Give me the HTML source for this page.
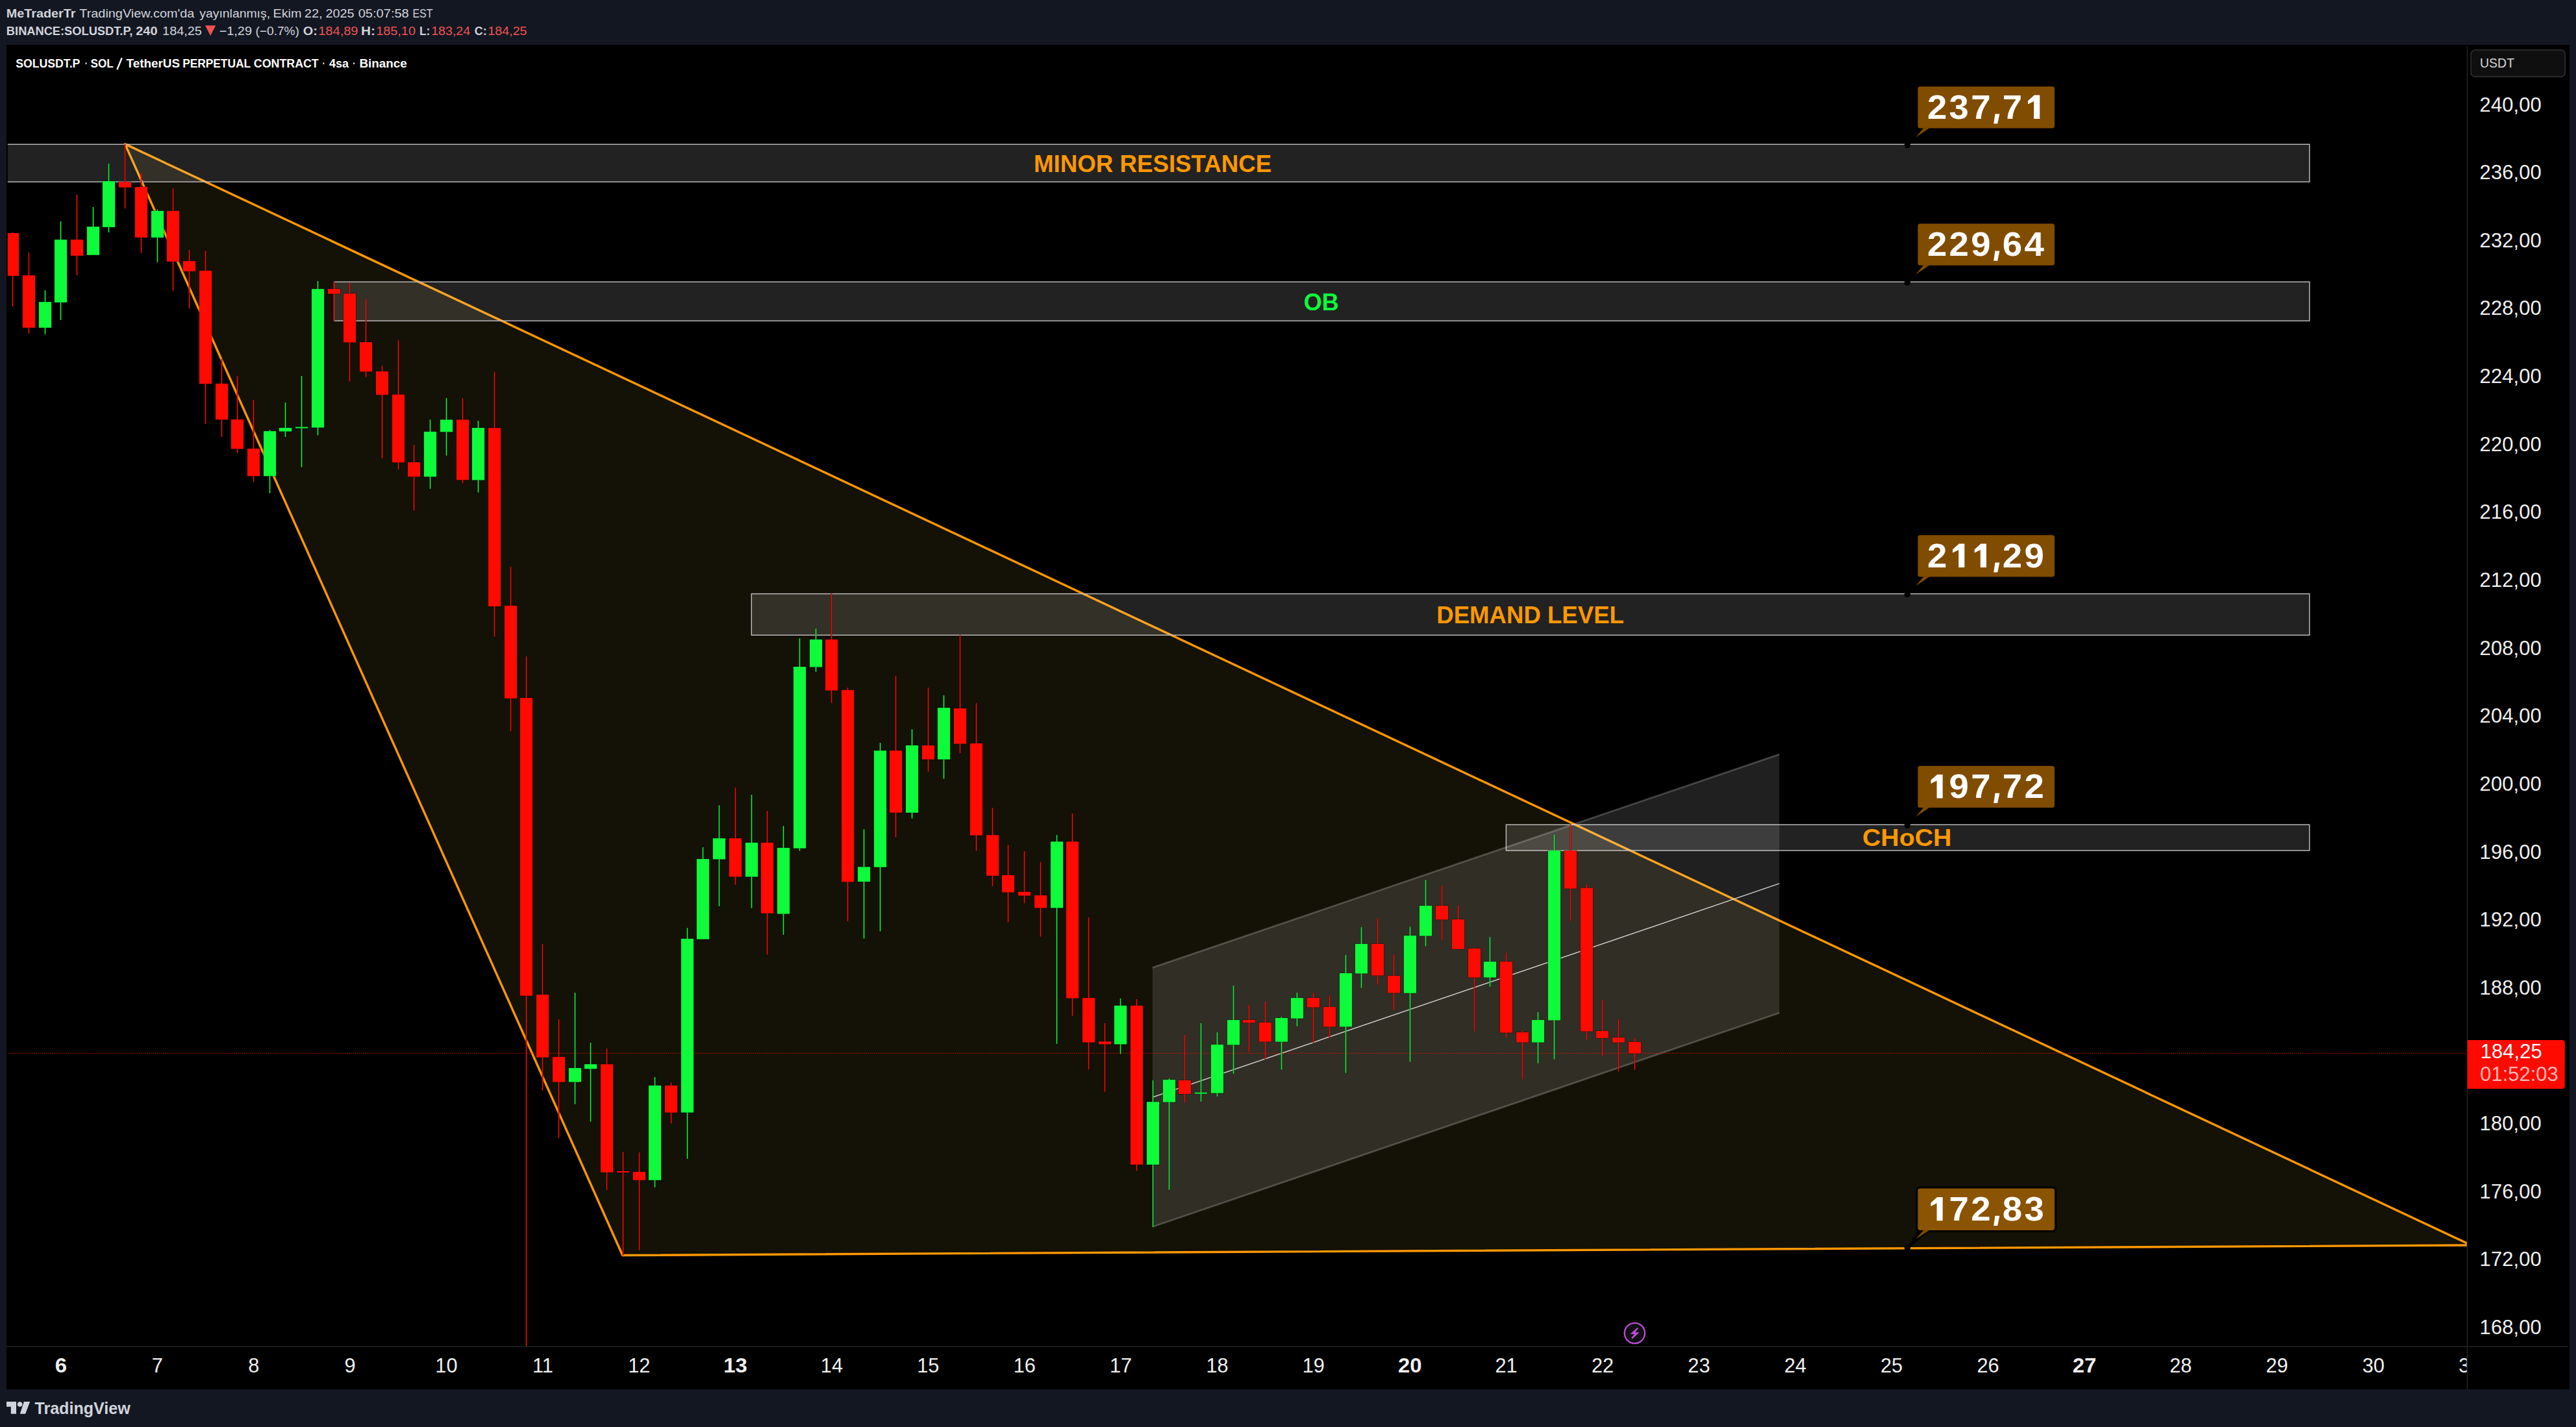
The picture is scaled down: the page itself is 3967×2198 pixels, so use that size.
<!DOCTYPE html>
<html><head><meta charset="utf-8"><title>SOLUSDT.P</title>
<style>html,body{margin:0;padding:0;background:#131722;overflow:hidden}svg{display:block}text{font-family:"Liberation Sans",sans-serif}</style></head><body>
<svg width="3967" height="2198" viewBox="0 0 3967 2198">
<rect x="0" y="0" width="3967" height="2198" fill="#131722"/>
<rect x="10" y="69" width="3947" height="2071" fill="#000"/>
<defs><clipPath id="pane"><rect x="11.8" y="69" width="3787.7" height="2005.3000000000002"/></clipPath></defs>
<g clip-path="url(#pane)">
<polygon points="192.5,221.9 3805.7,1918.0 958.7,1933.5" fill="rgba(255,213,79,0.08)" stroke="#ff9800" stroke-width="3.4" stroke-linejoin="round"/>
<rect x="-7" y="222.3" width="3563.6" height="57.8" fill="rgba(255,255,255,0.132)" stroke="#c2c2c2" stroke-width="1.4"/>
<rect x="514.5" y="434.2" width="3042.1" height="60.0" fill="rgba(255,255,255,0.132)" stroke="#c2c2c2" stroke-width="1.4"/>
<rect x="1157.3" y="914.6" width="2399.3" height="63.7" fill="rgba(255,255,255,0.132)" stroke="#c2c2c2" stroke-width="1.4"/>
<rect x="2319.4" y="1270.3" width="1237.1999999999998" height="39.8" fill="rgba(255,255,255,0.132)" stroke="#c2c2c2" stroke-width="1.4"/>
<polygon points="1774.8,1490.4 2740.2,1161.8 2740.2,1560.2 1774.8,1889.7" fill="rgba(255,255,255,0.125)"/>
<line x1="1774.8" y1="1490.4" x2="2740.2" y2="1161.8" stroke="rgba(255,255,255,0.21)" stroke-width="2.8"/>
<line x1="1774.8" y1="1889.7" x2="2740.2" y2="1560.2" stroke="rgba(255,255,255,0.21)" stroke-width="2.8"/>
<line x1="1774.8" y1="1690.0" x2="2740.2" y2="1360.9" stroke="#d4d4d4" stroke-width="1.4"/>
<line x1="10" y1="1622.3" x2="3799.5" y2="1622.3" stroke="#ff0a00" stroke-width="1.3" stroke-dasharray="1.35 1.7" opacity="0.8"/>
<path d="M18.85 358.0h1.3V471.9h-1.3z" fill="#ff0a00" stroke="rgba(0,0,0,0.45)" stroke-width="1.0" paint-order="stroke"/>
<rect x="9.9" y="359.0" width="19.2" height="65.9" fill="#ff0a00" stroke="rgba(0,0,0,0.45)" stroke-width="1.4" paint-order="stroke"/>
<path d="M18.85 358.0h1.3V359.0h-1.3zM18.85 424.9h1.3V471.9h-1.3z" fill="#ff0a00"/>
<path d="M43.85 389.2h1.3V513.8h-1.3z" fill="#ff0a00" stroke="rgba(0,0,0,0.45)" stroke-width="1.0" paint-order="stroke"/>
<rect x="34.9" y="424.1" width="19.2" height="80.7" fill="#ff0a00" stroke="rgba(0,0,0,0.45)" stroke-width="1.4" paint-order="stroke"/>
<path d="M43.85 389.2h1.3V424.1h-1.3zM43.85 504.8h1.3V513.8h-1.3z" fill="#ff0a00"/>
<path d="M68.85 447.1h1.3V514.9h-1.3z" fill="#0dfb3a" stroke="rgba(0,0,0,0.45)" stroke-width="1.0" paint-order="stroke"/>
<rect x="59.9" y="465.1" width="19.2" height="39.7" fill="#0dfb3a" stroke="rgba(0,0,0,0.45)" stroke-width="1.4" paint-order="stroke"/>
<path d="M68.85 447.1h1.3V465.1h-1.3zM68.85 504.8h1.3V514.9h-1.3z" fill="#0dfb3a"/>
<path d="M92.85 340.9h1.3V492.9h-1.3z" fill="#0dfb3a" stroke="rgba(0,0,0,0.45)" stroke-width="1.0" paint-order="stroke"/>
<rect x="83.9" y="369.1" width="19.2" height="96.7" fill="#0dfb3a" stroke="rgba(0,0,0,0.45)" stroke-width="1.4" paint-order="stroke"/>
<path d="M92.85 340.9h1.3V369.1h-1.3zM92.85 465.8h1.3V492.9h-1.3z" fill="#0dfb3a"/>
<path d="M117.85 300.0h1.3V423.9h-1.3z" fill="#ff0a00" stroke="rgba(0,0,0,0.45)" stroke-width="1.0" paint-order="stroke"/>
<rect x="108.9" y="369.1" width="19.2" height="24.8" fill="#ff0a00" stroke="rgba(0,0,0,0.45)" stroke-width="1.4" paint-order="stroke"/>
<path d="M117.85 300.0h1.3V369.1h-1.3zM117.85 393.9h1.3V423.9h-1.3z" fill="#ff0a00"/>
<path d="M142.85 319.0h1.3V392.8h-1.3z" fill="#0dfb3a" stroke="rgba(0,0,0,0.45)" stroke-width="1.0" paint-order="stroke"/>
<rect x="133.9" y="349.1" width="19.2" height="43.7" fill="#0dfb3a" stroke="rgba(0,0,0,0.45)" stroke-width="1.4" paint-order="stroke"/>
<path d="M142.85 319.0h1.3V349.1h-1.3zM142.85 392.8h1.3V392.8h-1.3z" fill="#0dfb3a"/>
<path d="M166.85 252.1h1.3V357.9h-1.3z" fill="#0dfb3a" stroke="rgba(0,0,0,0.45)" stroke-width="1.0" paint-order="stroke"/>
<rect x="157.9" y="279.0" width="19.2" height="70.9" fill="#0dfb3a" stroke="rgba(0,0,0,0.45)" stroke-width="1.4" paint-order="stroke"/>
<path d="M166.85 252.1h1.3V279.0h-1.3zM166.85 349.9h1.3V357.9h-1.3z" fill="#0dfb3a"/>
<path d="M191.85 221.9h1.3V321.1h-1.3z" fill="#ff0a00" stroke="rgba(0,0,0,0.45)" stroke-width="1.0" paint-order="stroke"/>
<rect x="182.9" y="280.3" width="19.2" height="8.4" fill="#ff0a00" stroke="rgba(0,0,0,0.45)" stroke-width="1.4" paint-order="stroke"/>
<path d="M191.85 221.9h1.3V280.3h-1.3zM191.85 288.7h1.3V321.1h-1.3z" fill="#ff0a00"/>
<path d="M216.85 267.3h1.3V390.0h-1.3z" fill="#ff0a00" stroke="rgba(0,0,0,0.45)" stroke-width="1.0" paint-order="stroke"/>
<rect x="207.9" y="287.9" width="19.2" height="78.0" fill="#ff0a00" stroke="rgba(0,0,0,0.45)" stroke-width="1.4" paint-order="stroke"/>
<path d="M216.85 267.3h1.3V287.9h-1.3zM216.85 365.9h1.3V390.0h-1.3z" fill="#ff0a00"/>
<path d="M241.85 322.7h1.3V403.9h-1.3z" fill="#0dfb3a" stroke="rgba(0,0,0,0.45)" stroke-width="1.0" paint-order="stroke"/>
<rect x="232.9" y="324.8" width="19.2" height="41.1" fill="#0dfb3a" stroke="rgba(0,0,0,0.45)" stroke-width="1.4" paint-order="stroke"/>
<path d="M241.85 322.7h1.3V324.8h-1.3zM241.85 365.9h1.3V403.9h-1.3z" fill="#0dfb3a"/>
<path d="M265.85 290.0h1.3V447.9h-1.3z" fill="#ff0a00" stroke="rgba(0,0,0,0.45)" stroke-width="1.0" paint-order="stroke"/>
<rect x="256.9" y="324.8" width="19.2" height="78.1" fill="#ff0a00" stroke="rgba(0,0,0,0.45)" stroke-width="1.4" paint-order="stroke"/>
<path d="M265.85 290.0h1.3V324.8h-1.3zM265.85 402.9h1.3V447.9h-1.3z" fill="#ff0a00"/>
<path d="M290.85 385.1h1.3V475.0h-1.3z" fill="#ff0a00" stroke="rgba(0,0,0,0.45)" stroke-width="1.0" paint-order="stroke"/>
<rect x="281.9" y="402.1" width="19.2" height="15.8" fill="#ff0a00" stroke="rgba(0,0,0,0.45)" stroke-width="1.4" paint-order="stroke"/>
<path d="M290.85 385.1h1.3V402.1h-1.3zM290.85 417.9h1.3V475.0h-1.3z" fill="#ff0a00"/>
<path d="M315.85 386.2h1.3V652.7h-1.3z" fill="#ff0a00" stroke="rgba(0,0,0,0.45)" stroke-width="1.0" paint-order="stroke"/>
<rect x="306.9" y="416.9" width="19.2" height="174.4" fill="#ff0a00" stroke="rgba(0,0,0,0.45)" stroke-width="1.4" paint-order="stroke"/>
<path d="M315.85 386.2h1.3V416.9h-1.3zM315.85 591.3h1.3V652.7h-1.3z" fill="#ff0a00"/>
<path d="M340.85 553.1h1.3V672.9h-1.3z" fill="#ff0a00" stroke="rgba(0,0,0,0.45)" stroke-width="1.0" paint-order="stroke"/>
<rect x="331.9" y="590.9" width="19.2" height="55.5" fill="#ff0a00" stroke="rgba(0,0,0,0.45)" stroke-width="1.4" paint-order="stroke"/>
<path d="M340.85 553.1h1.3V590.9h-1.3zM340.85 646.4h1.3V672.9h-1.3z" fill="#ff0a00"/>
<path d="M364.85 579.2h1.3V697.3h-1.3z" fill="#ff0a00" stroke="rgba(0,0,0,0.45)" stroke-width="1.0" paint-order="stroke"/>
<rect x="355.9" y="646.0" width="19.2" height="45.4" fill="#ff0a00" stroke="rgba(0,0,0,0.45)" stroke-width="1.4" paint-order="stroke"/>
<path d="M364.85 579.2h1.3V646.0h-1.3zM364.85 691.4h1.3V697.3h-1.3z" fill="#ff0a00"/>
<path d="M389.85 616.1h1.3V742.2h-1.3z" fill="#ff0a00" stroke="rgba(0,0,0,0.45)" stroke-width="1.0" paint-order="stroke"/>
<rect x="380.9" y="691.0" width="19.2" height="42.4" fill="#ff0a00" stroke="rgba(0,0,0,0.45)" stroke-width="1.4" paint-order="stroke"/>
<path d="M389.85 616.1h1.3V691.0h-1.3zM389.85 733.4h1.3V742.2h-1.3z" fill="#ff0a00"/>
<path d="M414.85 662.4h1.3V759.5h-1.3z" fill="#0dfb3a" stroke="rgba(0,0,0,0.45)" stroke-width="1.0" paint-order="stroke"/>
<rect x="405.9" y="664.1" width="19.2" height="69.3" fill="#0dfb3a" stroke="rgba(0,0,0,0.45)" stroke-width="1.4" paint-order="stroke"/>
<path d="M414.85 662.4h1.3V664.1h-1.3zM414.85 733.4h1.3V759.5h-1.3z" fill="#0dfb3a"/>
<path d="M438.85 619.9h1.3V672.9h-1.3z" fill="#0dfb3a" stroke="rgba(0,0,0,0.45)" stroke-width="1.0" paint-order="stroke"/>
<rect x="429.9" y="659.0" width="19.2" height="5.5" fill="#0dfb3a" stroke="rgba(0,0,0,0.45)" stroke-width="1.4" paint-order="stroke"/>
<path d="M438.85 619.9h1.3V659.0h-1.3zM438.85 664.5h1.3V672.9h-1.3z" fill="#0dfb3a"/>
<path d="M463.85 579.2h1.3V719.5h-1.3z" fill="#0dfb3a" stroke="rgba(0,0,0,0.45)" stroke-width="1.0" paint-order="stroke"/>
<rect x="454.9" y="657.6" width="19.2" height="2.0" fill="#0dfb3a" stroke="rgba(0,0,0,0.45)" stroke-width="1.4" paint-order="stroke"/>
<path d="M463.85 579.2h1.3V657.6h-1.3zM463.85 659.6h1.3V719.5h-1.3z" fill="#0dfb3a"/>
<path d="M488.85 432.9h1.3V670.4h-1.3z" fill="#0dfb3a" stroke="rgba(0,0,0,0.45)" stroke-width="1.0" paint-order="stroke"/>
<rect x="479.9" y="445.1" width="19.2" height="213.5" fill="#0dfb3a" stroke="rgba(0,0,0,0.45)" stroke-width="1.4" paint-order="stroke"/>
<path d="M488.85 432.9h1.3V445.1h-1.3zM488.85 658.6h1.3V670.4h-1.3z" fill="#0dfb3a"/>
<path d="M513.85 434.1h1.3V494.2h-1.3z" fill="#ff0a00" stroke="rgba(0,0,0,0.45)" stroke-width="1.0" paint-order="stroke"/>
<rect x="504.9" y="445.1" width="19.2" height="7.5" fill="#ff0a00" stroke="rgba(0,0,0,0.45)" stroke-width="1.4" paint-order="stroke"/>
<path d="M513.85 434.1h1.3V445.1h-1.3zM513.85 452.6h1.3V494.2h-1.3z" fill="#ff0a00"/>
<path d="M537.85 435.4h1.3V587.6h-1.3z" fill="#ff0a00" stroke="rgba(0,0,0,0.45)" stroke-width="1.0" paint-order="stroke"/>
<rect x="528.9" y="452.2" width="19.2" height="75.2" fill="#ff0a00" stroke="rgba(0,0,0,0.45)" stroke-width="1.4" paint-order="stroke"/>
<path d="M537.85 435.4h1.3V452.2h-1.3zM537.85 527.4h1.3V587.6h-1.3z" fill="#ff0a00"/>
<path d="M562.85 460.2h1.3V580.4h-1.3z" fill="#ff0a00" stroke="rgba(0,0,0,0.45)" stroke-width="1.0" paint-order="stroke"/>
<rect x="553.9" y="527.0" width="19.2" height="45.4" fill="#ff0a00" stroke="rgba(0,0,0,0.45)" stroke-width="1.4" paint-order="stroke"/>
<path d="M562.85 460.2h1.3V527.0h-1.3zM562.85 572.4h1.3V580.4h-1.3z" fill="#ff0a00"/>
<path d="M587.85 563.2h1.3V705.7h-1.3z" fill="#ff0a00" stroke="rgba(0,0,0,0.45)" stroke-width="1.0" paint-order="stroke"/>
<rect x="578.9" y="572.0" width="19.2" height="36.2" fill="#ff0a00" stroke="rgba(0,0,0,0.45)" stroke-width="1.4" paint-order="stroke"/>
<path d="M587.85 563.2h1.3V572.0h-1.3zM587.85 608.2h1.3V705.7h-1.3z" fill="#ff0a00"/>
<path d="M612.85 524.1h1.3V723.3h-1.3z" fill="#ff0a00" stroke="rgba(0,0,0,0.45)" stroke-width="1.0" paint-order="stroke"/>
<rect x="603.9" y="607.7" width="19.2" height="104.7" fill="#ff0a00" stroke="rgba(0,0,0,0.45)" stroke-width="1.4" paint-order="stroke"/>
<path d="M612.85 524.1h1.3V607.7h-1.3zM612.85 712.4h1.3V723.3h-1.3z" fill="#ff0a00"/>
<path d="M636.85 685.1h1.3V786.4h-1.3z" fill="#ff0a00" stroke="rgba(0,0,0,0.45)" stroke-width="1.0" paint-order="stroke"/>
<rect x="627.9" y="712.0" width="19.2" height="22.3" fill="#ff0a00" stroke="rgba(0,0,0,0.45)" stroke-width="1.4" paint-order="stroke"/>
<path d="M636.85 685.1h1.3V712.0h-1.3zM636.85 734.3h1.3V786.4h-1.3z" fill="#ff0a00"/>
<path d="M661.85 646.4h1.3V752.8h-1.3z" fill="#0dfb3a" stroke="rgba(0,0,0,0.45)" stroke-width="1.0" paint-order="stroke"/>
<rect x="652.9" y="664.9" width="19.2" height="69.4" fill="#0dfb3a" stroke="rgba(0,0,0,0.45)" stroke-width="1.4" paint-order="stroke"/>
<path d="M661.85 646.4h1.3V664.9h-1.3zM661.85 734.3h1.3V752.8h-1.3z" fill="#0dfb3a"/>
<path d="M686.85 613.2h1.3V701.5h-1.3z" fill="#0dfb3a" stroke="rgba(0,0,0,0.45)" stroke-width="1.0" paint-order="stroke"/>
<rect x="677.9" y="646.4" width="19.2" height="18.9" fill="#0dfb3a" stroke="rgba(0,0,0,0.45)" stroke-width="1.4" paint-order="stroke"/>
<path d="M686.85 613.2h1.3V646.4h-1.3zM686.85 665.3h1.3V701.5h-1.3z" fill="#0dfb3a"/>
<path d="M711.85 613.2h1.3V744.3h-1.3z" fill="#ff0a00" stroke="rgba(0,0,0,0.45)" stroke-width="1.0" paint-order="stroke"/>
<rect x="702.9" y="646.4" width="19.2" height="92.9" fill="#ff0a00" stroke="rgba(0,0,0,0.45)" stroke-width="1.4" paint-order="stroke"/>
<path d="M711.85 613.2h1.3V646.4h-1.3zM711.85 739.3h1.3V744.3h-1.3z" fill="#ff0a00"/>
<path d="M735.85 648.1h1.3V758.4h-1.3z" fill="#0dfb3a" stroke="rgba(0,0,0,0.45)" stroke-width="1.0" paint-order="stroke"/>
<rect x="726.9" y="659.0" width="19.2" height="80.5" fill="#0dfb3a" stroke="rgba(0,0,0,0.45)" stroke-width="1.4" paint-order="stroke"/>
<path d="M735.85 648.1h1.3V659.0h-1.3zM735.85 739.5h1.3V758.4h-1.3z" fill="#0dfb3a"/>
<path d="M760.85 573.3h1.3V980.4h-1.3z" fill="#ff0a00" stroke="rgba(0,0,0,0.45)" stroke-width="1.0" paint-order="stroke"/>
<rect x="751.9" y="659.2" width="19.2" height="274.8" fill="#ff0a00" stroke="rgba(0,0,0,0.45)" stroke-width="1.4" paint-order="stroke"/>
<path d="M760.85 573.3h1.3V659.2h-1.3zM760.85 934.0h1.3V980.4h-1.3z" fill="#ff0a00"/>
<path d="M785.85 873.2h1.3V1126.3h-1.3z" fill="#ff0a00" stroke="rgba(0,0,0,0.45)" stroke-width="1.0" paint-order="stroke"/>
<rect x="776.9" y="932.9" width="19.2" height="142.9" fill="#ff0a00" stroke="rgba(0,0,0,0.45)" stroke-width="1.4" paint-order="stroke"/>
<path d="M785.85 873.2h1.3V932.9h-1.3zM785.85 1075.8h1.3V1126.3h-1.3z" fill="#ff0a00"/>
<path d="M809.85 1011.0h1.3V2073.6h-1.3z" fill="#ff0a00" stroke="rgba(0,0,0,0.45)" stroke-width="1.0" paint-order="stroke"/>
<rect x="800.9" y="1075.0" width="19.2" height="458.7" fill="#ff0a00" stroke="rgba(0,0,0,0.45)" stroke-width="1.4" paint-order="stroke"/>
<path d="M809.85 1011.0h1.3V1075.0h-1.3zM809.85 1533.7h1.3V2073.6h-1.3z" fill="#ff0a00"/>
<path d="M834.85 1454.3h1.3V1679.6h-1.3z" fill="#ff0a00" stroke="rgba(0,0,0,0.45)" stroke-width="1.0" paint-order="stroke"/>
<rect x="825.9" y="1532.0" width="19.2" height="96.7" fill="#ff0a00" stroke="rgba(0,0,0,0.45)" stroke-width="1.4" paint-order="stroke"/>
<path d="M834.85 1454.3h1.3V1532.0h-1.3zM834.85 1628.7h1.3V1679.6h-1.3z" fill="#ff0a00"/>
<path d="M859.85 1570.3h1.3V1752.3h-1.3z" fill="#ff0a00" stroke="rgba(0,0,0,0.45)" stroke-width="1.0" paint-order="stroke"/>
<rect x="850.9" y="1627.9" width="19.2" height="38.7" fill="#ff0a00" stroke="rgba(0,0,0,0.45)" stroke-width="1.4" paint-order="stroke"/>
<path d="M859.85 1570.3h1.3V1627.9h-1.3zM859.85 1666.6h1.3V1752.3h-1.3z" fill="#ff0a00"/>
<path d="M884.85 1529.1h1.3V1700.6h-1.3z" fill="#0dfb3a" stroke="rgba(0,0,0,0.45)" stroke-width="1.0" paint-order="stroke"/>
<rect x="875.9" y="1645.1" width="19.2" height="21.5" fill="#0dfb3a" stroke="rgba(0,0,0,0.45)" stroke-width="1.4" paint-order="stroke"/>
<path d="M884.85 1529.1h1.3V1645.1h-1.3zM884.85 1666.6h1.3V1700.6h-1.3z" fill="#0dfb3a"/>
<path d="M908.85 1606.0h1.3V1727.5h-1.3z" fill="#0dfb3a" stroke="rgba(0,0,0,0.45)" stroke-width="1.0" paint-order="stroke"/>
<rect x="899.9" y="1639.2" width="19.2" height="7.2" fill="#0dfb3a" stroke="rgba(0,0,0,0.45)" stroke-width="1.4" paint-order="stroke"/>
<path d="M908.85 1606.0h1.3V1639.2h-1.3zM908.85 1646.4h1.3V1727.5h-1.3z" fill="#0dfb3a"/>
<path d="M933.85 1615.3h1.3V1832.8h-1.3z" fill="#ff0a00" stroke="rgba(0,0,0,0.45)" stroke-width="1.0" paint-order="stroke"/>
<rect x="924.9" y="1639.2" width="19.2" height="166.6" fill="#ff0a00" stroke="rgba(0,0,0,0.45)" stroke-width="1.4" paint-order="stroke"/>
<path d="M933.85 1615.3h1.3V1639.2h-1.3zM933.85 1805.8h1.3V1832.8h-1.3z" fill="#ff0a00"/>
<path d="M958.85 1774.0h1.3V1933.5h-1.3z" fill="#ff0a00" stroke="rgba(0,0,0,0.45)" stroke-width="1.0" paint-order="stroke"/>
<rect x="949.9" y="1804.0" width="19.2" height="2.0" fill="#ff0a00" stroke="rgba(0,0,0,0.45)" stroke-width="1.4" paint-order="stroke"/>
<path d="M958.85 1774.0h1.3V1804.0h-1.3zM958.85 1806.0h1.3V1933.5h-1.3z" fill="#ff0a00"/>
<path d="M983.85 1775.1h1.3V1925.8h-1.3z" fill="#ff0a00" stroke="rgba(0,0,0,0.45)" stroke-width="1.0" paint-order="stroke"/>
<rect x="974.9" y="1805.0" width="19.2" height="12.8" fill="#ff0a00" stroke="rgba(0,0,0,0.45)" stroke-width="1.4" paint-order="stroke"/>
<path d="M983.85 1775.1h1.3V1805.0h-1.3zM983.85 1817.8h1.3V1925.8h-1.3z" fill="#ff0a00"/>
<path d="M1007.85 1659.0h1.3V1828.9h-1.3z" fill="#0dfb3a" stroke="rgba(0,0,0,0.45)" stroke-width="1.0" paint-order="stroke"/>
<rect x="998.9" y="1672.0" width="19.2" height="145.8" fill="#0dfb3a" stroke="rgba(0,0,0,0.45)" stroke-width="1.4" paint-order="stroke"/>
<path d="M1007.85 1659.0h1.3V1672.0h-1.3zM1007.85 1817.8h1.3V1828.9h-1.3z" fill="#0dfb3a"/>
<path d="M1032.85 1667.4h1.3V1730.4h-1.3z" fill="#ff0a00" stroke="rgba(0,0,0,0.45)" stroke-width="1.0" paint-order="stroke"/>
<rect x="1023.9" y="1672.0" width="19.2" height="41.7" fill="#ff0a00" stroke="rgba(0,0,0,0.45)" stroke-width="1.4" paint-order="stroke"/>
<path d="M1032.85 1667.4h1.3V1672.0h-1.3zM1032.85 1713.7h1.3V1730.4h-1.3z" fill="#ff0a00"/>
<path d="M1057.85 1429.5h1.3V1784.8h-1.3z" fill="#0dfb3a" stroke="rgba(0,0,0,0.45)" stroke-width="1.0" paint-order="stroke"/>
<rect x="1048.9" y="1445.9" width="19.2" height="267.7" fill="#0dfb3a" stroke="rgba(0,0,0,0.45)" stroke-width="1.4" paint-order="stroke"/>
<path d="M1057.85 1429.5h1.3V1445.9h-1.3zM1057.85 1713.6h1.3V1784.8h-1.3z" fill="#0dfb3a"/>
<path d="M1081.85 1305.1h1.3V1446.7h-1.3z" fill="#0dfb3a" stroke="rgba(0,0,0,0.45)" stroke-width="1.0" paint-order="stroke"/>
<rect x="1072.9" y="1323.1" width="19.2" height="123.6" fill="#0dfb3a" stroke="rgba(0,0,0,0.45)" stroke-width="1.4" paint-order="stroke"/>
<path d="M1081.85 1305.1h1.3V1323.1h-1.3zM1081.85 1446.7h1.3V1446.7h-1.3z" fill="#0dfb3a"/>
<path d="M1106.85 1240.6h1.3V1395.9h-1.3z" fill="#0dfb3a" stroke="rgba(0,0,0,0.45)" stroke-width="1.0" paint-order="stroke"/>
<rect x="1097.9" y="1291.2" width="19.2" height="32.4" fill="#0dfb3a" stroke="rgba(0,0,0,0.45)" stroke-width="1.4" paint-order="stroke"/>
<path d="M1106.85 1240.6h1.3V1291.2h-1.3zM1106.85 1323.6h1.3V1395.9h-1.3z" fill="#0dfb3a"/>
<path d="M1131.85 1213.3h1.3V1362.7h-1.3z" fill="#ff0a00" stroke="rgba(0,0,0,0.45)" stroke-width="1.0" paint-order="stroke"/>
<rect x="1122.9" y="1291.2" width="19.2" height="59.3" fill="#ff0a00" stroke="rgba(0,0,0,0.45)" stroke-width="1.4" paint-order="stroke"/>
<path d="M1131.85 1213.3h1.3V1291.2h-1.3zM1131.85 1350.5h1.3V1362.7h-1.3z" fill="#ff0a00"/>
<path d="M1156.85 1224.2h1.3V1398.8h-1.3z" fill="#0dfb3a" stroke="rgba(0,0,0,0.45)" stroke-width="1.0" paint-order="stroke"/>
<rect x="1147.9" y="1297.9" width="19.2" height="52.6" fill="#0dfb3a" stroke="rgba(0,0,0,0.45)" stroke-width="1.4" paint-order="stroke"/>
<path d="M1156.85 1224.2h1.3V1297.9h-1.3zM1156.85 1350.5h1.3V1398.8h-1.3z" fill="#0dfb3a"/>
<path d="M1180.85 1249.0h1.3V1470.3h-1.3z" fill="#ff0a00" stroke="rgba(0,0,0,0.45)" stroke-width="1.0" paint-order="stroke"/>
<rect x="1171.9" y="1297.9" width="19.2" height="108.9" fill="#ff0a00" stroke="rgba(0,0,0,0.45)" stroke-width="1.4" paint-order="stroke"/>
<path d="M1180.85 1249.0h1.3V1297.9h-1.3zM1180.85 1406.8h1.3V1470.3h-1.3z" fill="#ff0a00"/>
<path d="M1205.85 1272.3h1.3V1439.6h-1.3z" fill="#0dfb3a" stroke="rgba(0,0,0,0.45)" stroke-width="1.0" paint-order="stroke"/>
<rect x="1196.9" y="1305.9" width="19.2" height="101.7" fill="#0dfb3a" stroke="rgba(0,0,0,0.45)" stroke-width="1.4" paint-order="stroke"/>
<path d="M1205.85 1272.3h1.3V1305.9h-1.3zM1205.85 1407.6h1.3V1439.6h-1.3z" fill="#0dfb3a"/>
<path d="M1230.85 983.3h1.3V1310.5h-1.3z" fill="#0dfb3a" stroke="rgba(0,0,0,0.45)" stroke-width="1.0" paint-order="stroke"/>
<rect x="1221.9" y="1027.0" width="19.2" height="279.7" fill="#0dfb3a" stroke="rgba(0,0,0,0.45)" stroke-width="1.4" paint-order="stroke"/>
<path d="M1230.85 983.3h1.3V1027.0h-1.3zM1230.85 1306.7h1.3V1310.5h-1.3z" fill="#0dfb3a"/>
<path d="M1255.85 968.2h1.3V1034.6h-1.3z" fill="#0dfb3a" stroke="rgba(0,0,0,0.45)" stroke-width="1.0" paint-order="stroke"/>
<rect x="1246.9" y="985.0" width="19.2" height="42.5" fill="#0dfb3a" stroke="rgba(0,0,0,0.45)" stroke-width="1.4" paint-order="stroke"/>
<path d="M1255.85 968.2h1.3V985.0h-1.3zM1255.85 1027.5h1.3V1034.6h-1.3z" fill="#0dfb3a"/>
<path d="M1279.85 914.4h1.3V1082.5h-1.3z" fill="#ff0a00" stroke="rgba(0,0,0,0.45)" stroke-width="1.0" paint-order="stroke"/>
<rect x="1270.9" y="985.0" width="19.2" height="78.6" fill="#ff0a00" stroke="rgba(0,0,0,0.45)" stroke-width="1.4" paint-order="stroke"/>
<path d="M1279.85 914.4h1.3V985.0h-1.3zM1279.85 1063.6h1.3V1082.5h-1.3z" fill="#ff0a00"/>
<path d="M1304.85 1059.0h1.3V1419.0h-1.3z" fill="#ff0a00" stroke="rgba(0,0,0,0.45)" stroke-width="1.0" paint-order="stroke"/>
<rect x="1295.9" y="1062.8" width="19.2" height="295.6" fill="#ff0a00" stroke="rgba(0,0,0,0.45)" stroke-width="1.4" paint-order="stroke"/>
<path d="M1304.85 1059.0h1.3V1062.8h-1.3zM1304.85 1358.4h1.3V1419.0h-1.3z" fill="#ff0a00"/>
<path d="M1329.85 1277.3h1.3V1445.5h-1.3z" fill="#0dfb3a" stroke="rgba(0,0,0,0.45)" stroke-width="1.0" paint-order="stroke"/>
<rect x="1320.9" y="1335.3" width="19.2" height="22.7" fill="#0dfb3a" stroke="rgba(0,0,0,0.45)" stroke-width="1.4" paint-order="stroke"/>
<path d="M1329.85 1277.3h1.3V1335.3h-1.3zM1329.85 1358.0h1.3V1445.5h-1.3z" fill="#0dfb3a"/>
<path d="M1354.85 1144.3h1.3V1434.5h-1.3z" fill="#0dfb3a" stroke="rgba(0,0,0,0.45)" stroke-width="1.0" paint-order="stroke"/>
<rect x="1345.9" y="1156.1" width="19.2" height="179.6" fill="#0dfb3a" stroke="rgba(0,0,0,0.45)" stroke-width="1.4" paint-order="stroke"/>
<path d="M1354.85 1144.3h1.3V1156.1h-1.3zM1354.85 1335.7h1.3V1434.5h-1.3z" fill="#0dfb3a"/>
<path d="M1378.85 1041.3h1.3V1289.5h-1.3z" fill="#ff0a00" stroke="rgba(0,0,0,0.45)" stroke-width="1.0" paint-order="stroke"/>
<rect x="1369.9" y="1156.1" width="19.2" height="95.6" fill="#ff0a00" stroke="rgba(0,0,0,0.45)" stroke-width="1.4" paint-order="stroke"/>
<path d="M1378.85 1041.3h1.3V1156.1h-1.3zM1378.85 1251.7h1.3V1289.5h-1.3z" fill="#ff0a00"/>
<path d="M1403.85 1123.2h1.3V1260.6h-1.3z" fill="#0dfb3a" stroke="rgba(0,0,0,0.45)" stroke-width="1.0" paint-order="stroke"/>
<rect x="1394.9" y="1148.1" width="19.2" height="103.7" fill="#0dfb3a" stroke="rgba(0,0,0,0.45)" stroke-width="1.4" paint-order="stroke"/>
<path d="M1403.85 1123.2h1.3V1148.1h-1.3zM1403.85 1251.8h1.3V1260.6h-1.3z" fill="#0dfb3a"/>
<path d="M1428.85 1059.1h1.3V1188.4h-1.3z" fill="#ff0a00" stroke="rgba(0,0,0,0.45)" stroke-width="1.0" paint-order="stroke"/>
<rect x="1419.9" y="1148.1" width="19.2" height="21.6" fill="#ff0a00" stroke="rgba(0,0,0,0.45)" stroke-width="1.4" paint-order="stroke"/>
<path d="M1428.85 1059.1h1.3V1148.1h-1.3zM1428.85 1169.7h1.3V1188.4h-1.3z" fill="#ff0a00"/>
<path d="M1452.85 1070.9h1.3V1199.5h-1.3z" fill="#0dfb3a" stroke="rgba(0,0,0,0.45)" stroke-width="1.0" paint-order="stroke"/>
<rect x="1443.9" y="1090.2" width="19.2" height="79.5" fill="#0dfb3a" stroke="rgba(0,0,0,0.45)" stroke-width="1.4" paint-order="stroke"/>
<path d="M1452.85 1070.9h1.3V1090.2h-1.3zM1452.85 1169.7h1.3V1199.5h-1.3z" fill="#0dfb3a"/>
<path d="M1477.85 978.3h1.3V1159.8h-1.3z" fill="#ff0a00" stroke="rgba(0,0,0,0.45)" stroke-width="1.0" paint-order="stroke"/>
<rect x="1468.9" y="1091.1" width="19.2" height="54.6" fill="#ff0a00" stroke="rgba(0,0,0,0.45)" stroke-width="1.4" paint-order="stroke"/>
<path d="M1477.85 978.3h1.3V1091.1h-1.3zM1477.85 1145.7h1.3V1159.8h-1.3z" fill="#ff0a00"/>
<path d="M1502.85 1083.2h1.3V1310.6h-1.3z" fill="#ff0a00" stroke="rgba(0,0,0,0.45)" stroke-width="1.0" paint-order="stroke"/>
<rect x="1493.9" y="1145.1" width="19.2" height="141.6" fill="#ff0a00" stroke="rgba(0,0,0,0.45)" stroke-width="1.4" paint-order="stroke"/>
<path d="M1502.85 1083.2h1.3V1145.1h-1.3zM1502.85 1286.7h1.3V1310.6h-1.3z" fill="#ff0a00"/>
<path d="M1527.85 1244.2h1.3V1364.8h-1.3z" fill="#ff0a00" stroke="rgba(0,0,0,0.45)" stroke-width="1.0" paint-order="stroke"/>
<rect x="1518.9" y="1286.2" width="19.2" height="62.7" fill="#ff0a00" stroke="rgba(0,0,0,0.45)" stroke-width="1.4" paint-order="stroke"/>
<path d="M1527.85 1244.2h1.3V1286.2h-1.3zM1527.85 1348.9h1.3V1364.8h-1.3z" fill="#ff0a00"/>
<path d="M1551.85 1301.4h1.3V1420.3h-1.3z" fill="#ff0a00" stroke="rgba(0,0,0,0.45)" stroke-width="1.0" paint-order="stroke"/>
<rect x="1542.9" y="1348.0" width="19.2" height="26.5" fill="#ff0a00" stroke="rgba(0,0,0,0.45)" stroke-width="1.4" paint-order="stroke"/>
<path d="M1551.85 1301.4h1.3V1348.0h-1.3zM1551.85 1374.5h1.3V1420.3h-1.3z" fill="#ff0a00"/>
<path d="M1576.85 1311.0h1.3V1391.3h-1.3z" fill="#ff0a00" stroke="rgba(0,0,0,0.45)" stroke-width="1.0" paint-order="stroke"/>
<rect x="1567.9" y="1373.7" width="19.2" height="5.9" fill="#ff0a00" stroke="rgba(0,0,0,0.45)" stroke-width="1.4" paint-order="stroke"/>
<path d="M1576.85 1311.0h1.3V1373.7h-1.3zM1576.85 1379.6h1.3V1391.3h-1.3z" fill="#ff0a00"/>
<path d="M1601.85 1327.8h1.3V1442.6h-1.3z" fill="#ff0a00" stroke="rgba(0,0,0,0.45)" stroke-width="1.0" paint-order="stroke"/>
<rect x="1592.9" y="1379.1" width="19.2" height="19.4" fill="#ff0a00" stroke="rgba(0,0,0,0.45)" stroke-width="1.4" paint-order="stroke"/>
<path d="M1601.85 1327.8h1.3V1379.1h-1.3zM1601.85 1398.5h1.3V1442.6h-1.3z" fill="#ff0a00"/>
<path d="M1626.85 1286.2h1.3V1607.8h-1.3z" fill="#0dfb3a" stroke="rgba(0,0,0,0.45)" stroke-width="1.0" paint-order="stroke"/>
<rect x="1617.9" y="1296.3" width="19.2" height="102.2" fill="#0dfb3a" stroke="rgba(0,0,0,0.45)" stroke-width="1.4" paint-order="stroke"/>
<path d="M1626.85 1286.2h1.3V1296.3h-1.3zM1626.85 1398.5h1.3V1607.8h-1.3z" fill="#0dfb3a"/>
<path d="M1650.85 1253.0h1.3V1564.6h-1.3z" fill="#ff0a00" stroke="rgba(0,0,0,0.45)" stroke-width="1.0" paint-order="stroke"/>
<rect x="1641.9" y="1296.3" width="19.2" height="241.3" fill="#ff0a00" stroke="rgba(0,0,0,0.45)" stroke-width="1.4" paint-order="stroke"/>
<path d="M1650.85 1253.0h1.3V1296.3h-1.3zM1650.85 1537.6h1.3V1564.6h-1.3z" fill="#ff0a00"/>
<path d="M1675.85 1412.9h1.3V1647.3h-1.3z" fill="#ff0a00" stroke="rgba(0,0,0,0.45)" stroke-width="1.0" paint-order="stroke"/>
<rect x="1666.9" y="1537.1" width="19.2" height="68.5" fill="#ff0a00" stroke="rgba(0,0,0,0.45)" stroke-width="1.4" paint-order="stroke"/>
<path d="M1675.85 1412.9h1.3V1537.1h-1.3zM1675.85 1605.6h1.3V1647.3h-1.3z" fill="#ff0a00"/>
<path d="M1700.85 1576.0h1.3V1681.6h-1.3z" fill="#ff0a00" stroke="rgba(0,0,0,0.45)" stroke-width="1.0" paint-order="stroke"/>
<rect x="1691.9" y="1604.2" width="19.2" height="4.2" fill="#ff0a00" stroke="rgba(0,0,0,0.45)" stroke-width="1.4" paint-order="stroke"/>
<path d="M1700.85 1576.0h1.3V1604.2h-1.3zM1700.85 1608.4h1.3V1681.6h-1.3z" fill="#ff0a00"/>
<path d="M1724.85 1538.0h1.3V1623.3h-1.3z" fill="#0dfb3a" stroke="rgba(0,0,0,0.45)" stroke-width="1.0" paint-order="stroke"/>
<rect x="1715.9" y="1548.9" width="19.2" height="59.6" fill="#0dfb3a" stroke="rgba(0,0,0,0.45)" stroke-width="1.4" paint-order="stroke"/>
<path d="M1724.85 1538.0h1.3V1548.9h-1.3zM1724.85 1608.5h1.3V1623.3h-1.3z" fill="#0dfb3a"/>
<path d="M1749.85 1539.0h1.3V1803.5h-1.3z" fill="#ff0a00" stroke="rgba(0,0,0,0.45)" stroke-width="1.0" paint-order="stroke"/>
<rect x="1740.9" y="1548.9" width="19.2" height="245.0" fill="#ff0a00" stroke="rgba(0,0,0,0.45)" stroke-width="1.4" paint-order="stroke"/>
<path d="M1749.85 1539.0h1.3V1548.9h-1.3zM1749.85 1793.9h1.3V1803.5h-1.3z" fill="#ff0a00"/>
<path d="M1774.85 1664.0h1.3V1889.7h-1.3z" fill="#0dfb3a" stroke="rgba(0,0,0,0.45)" stroke-width="1.0" paint-order="stroke"/>
<rect x="1765.9" y="1697.2" width="19.2" height="96.7" fill="#0dfb3a" stroke="rgba(0,0,0,0.45)" stroke-width="1.4" paint-order="stroke"/>
<path d="M1774.85 1664.0h1.3V1697.2h-1.3zM1774.85 1793.9h1.3V1889.7h-1.3z" fill="#0dfb3a"/>
<path d="M1799.85 1661.0h1.3V1832.5h-1.3z" fill="#0dfb3a" stroke="rgba(0,0,0,0.45)" stroke-width="1.0" paint-order="stroke"/>
<rect x="1790.9" y="1663.1" width="19.2" height="34.5" fill="#0dfb3a" stroke="rgba(0,0,0,0.45)" stroke-width="1.4" paint-order="stroke"/>
<path d="M1799.85 1661.0h1.3V1663.1h-1.3zM1799.85 1697.6h1.3V1832.5h-1.3z" fill="#0dfb3a"/>
<path d="M1823.85 1594.0h1.3V1698.4h-1.3z" fill="#ff0a00" stroke="rgba(0,0,0,0.45)" stroke-width="1.0" paint-order="stroke"/>
<rect x="1814.9" y="1664.0" width="19.2" height="21.0" fill="#ff0a00" stroke="rgba(0,0,0,0.45)" stroke-width="1.4" paint-order="stroke"/>
<path d="M1823.85 1594.0h1.3V1664.0h-1.3zM1823.85 1685.0h1.3V1698.4h-1.3z" fill="#ff0a00"/>
<path d="M1848.85 1576.0h1.3V1696.8h-1.3z" fill="#0dfb3a" stroke="rgba(0,0,0,0.45)" stroke-width="1.0" paint-order="stroke"/>
<rect x="1839.9" y="1682.7" width="19.2" height="2.0" fill="#0dfb3a" stroke="rgba(0,0,0,0.45)" stroke-width="1.4" paint-order="stroke"/>
<path d="M1848.85 1576.0h1.3V1682.7h-1.3zM1848.85 1684.7h1.3V1696.8h-1.3z" fill="#0dfb3a"/>
<path d="M1873.85 1590.0h1.3V1688.8h-1.3z" fill="#0dfb3a" stroke="rgba(0,0,0,0.45)" stroke-width="1.0" paint-order="stroke"/>
<rect x="1864.9" y="1608.9" width="19.2" height="74.8" fill="#0dfb3a" stroke="rgba(0,0,0,0.45)" stroke-width="1.4" paint-order="stroke"/>
<path d="M1873.85 1590.0h1.3V1608.9h-1.3zM1873.85 1683.7h1.3V1688.8h-1.3z" fill="#0dfb3a"/>
<path d="M1898.85 1518.0h1.3V1653.9h-1.3z" fill="#0dfb3a" stroke="rgba(0,0,0,0.45)" stroke-width="1.0" paint-order="stroke"/>
<rect x="1889.9" y="1571.1" width="19.2" height="38.3" fill="#0dfb3a" stroke="rgba(0,0,0,0.45)" stroke-width="1.4" paint-order="stroke"/>
<path d="M1898.85 1518.0h1.3V1571.1h-1.3zM1898.85 1609.4h1.3V1653.9h-1.3z" fill="#0dfb3a"/>
<path d="M1922.85 1548.0h1.3V1620.6h-1.3z" fill="#ff0a00" stroke="rgba(0,0,0,0.45)" stroke-width="1.0" paint-order="stroke"/>
<rect x="1913.9" y="1571.1" width="19.2" height="4.2" fill="#ff0a00" stroke="rgba(0,0,0,0.45)" stroke-width="1.4" paint-order="stroke"/>
<path d="M1922.85 1548.0h1.3V1571.1h-1.3zM1922.85 1575.3h1.3V1620.6h-1.3z" fill="#ff0a00"/>
<path d="M1947.85 1542.1h1.3V1631.3h-1.3z" fill="#ff0a00" stroke="rgba(0,0,0,0.45)" stroke-width="1.0" paint-order="stroke"/>
<rect x="1938.9" y="1574.9" width="19.2" height="29.7" fill="#ff0a00" stroke="rgba(0,0,0,0.45)" stroke-width="1.4" paint-order="stroke"/>
<path d="M1947.85 1542.1h1.3V1574.9h-1.3zM1947.85 1604.6h1.3V1631.3h-1.3z" fill="#ff0a00"/>
<path d="M1972.85 1565.9h1.3V1647.6h-1.3z" fill="#0dfb3a" stroke="rgba(0,0,0,0.45)" stroke-width="1.0" paint-order="stroke"/>
<rect x="1963.9" y="1568.0" width="19.2" height="36.6" fill="#0dfb3a" stroke="rgba(0,0,0,0.45)" stroke-width="1.4" paint-order="stroke"/>
<path d="M1972.85 1565.9h1.3V1568.0h-1.3zM1972.85 1604.6h1.3V1647.6h-1.3z" fill="#0dfb3a"/>
<path d="M1996.85 1529.1h1.3V1580.6h-1.3z" fill="#0dfb3a" stroke="rgba(0,0,0,0.45)" stroke-width="1.0" paint-order="stroke"/>
<rect x="1987.9" y="1537.1" width="19.2" height="31.6" fill="#0dfb3a" stroke="rgba(0,0,0,0.45)" stroke-width="1.4" paint-order="stroke"/>
<path d="M1996.85 1529.1h1.3V1537.1h-1.3zM1996.85 1568.7h1.3V1580.6h-1.3z" fill="#0dfb3a"/>
<path d="M2021.85 1529.1h1.3V1605.9h-1.3z" fill="#ff0a00" stroke="rgba(0,0,0,0.45)" stroke-width="1.0" paint-order="stroke"/>
<rect x="2012.9" y="1537.1" width="19.2" height="14.5" fill="#ff0a00" stroke="rgba(0,0,0,0.45)" stroke-width="1.4" paint-order="stroke"/>
<path d="M2021.85 1529.1h1.3V1537.1h-1.3zM2021.85 1551.6h1.3V1605.9h-1.3z" fill="#ff0a00"/>
<path d="M2046.85 1533.3h1.3V1598.9h-1.3z" fill="#ff0a00" stroke="rgba(0,0,0,0.45)" stroke-width="1.0" paint-order="stroke"/>
<rect x="2037.9" y="1550.9" width="19.2" height="30.6" fill="#ff0a00" stroke="rgba(0,0,0,0.45)" stroke-width="1.4" paint-order="stroke"/>
<path d="M2046.85 1533.3h1.3V1550.9h-1.3zM2046.85 1581.5h1.3V1598.9h-1.3z" fill="#ff0a00"/>
<path d="M2071.85 1471.1h1.3V1652.6h-1.3z" fill="#0dfb3a" stroke="rgba(0,0,0,0.45)" stroke-width="1.0" paint-order="stroke"/>
<rect x="2062.9" y="1499.0" width="19.2" height="82.5" fill="#0dfb3a" stroke="rgba(0,0,0,0.45)" stroke-width="1.4" paint-order="stroke"/>
<path d="M2071.85 1471.1h1.3V1499.0h-1.3zM2071.85 1581.5h1.3V1652.6h-1.3z" fill="#0dfb3a"/>
<path d="M2095.85 1428.2h1.3V1521.6h-1.3z" fill="#0dfb3a" stroke="rgba(0,0,0,0.45)" stroke-width="1.0" paint-order="stroke"/>
<rect x="2086.9" y="1453.9" width="19.2" height="45.6" fill="#0dfb3a" stroke="rgba(0,0,0,0.45)" stroke-width="1.4" paint-order="stroke"/>
<path d="M2095.85 1428.2h1.3V1453.9h-1.3zM2095.85 1499.5h1.3V1521.6h-1.3z" fill="#0dfb3a"/>
<path d="M2120.85 1415.2h1.3V1516.5h-1.3z" fill="#ff0a00" stroke="rgba(0,0,0,0.45)" stroke-width="1.0" paint-order="stroke"/>
<rect x="2111.9" y="1453.9" width="19.2" height="48.6" fill="#ff0a00" stroke="rgba(0,0,0,0.45)" stroke-width="1.4" paint-order="stroke"/>
<path d="M2120.85 1415.2h1.3V1453.9h-1.3zM2120.85 1502.5h1.3V1516.5h-1.3z" fill="#ff0a00"/>
<path d="M2145.85 1470.0h1.3V1555.6h-1.3z" fill="#ff0a00" stroke="rgba(0,0,0,0.45)" stroke-width="1.0" paint-order="stroke"/>
<rect x="2136.9" y="1503.0" width="19.2" height="26.4" fill="#ff0a00" stroke="rgba(0,0,0,0.45)" stroke-width="1.4" paint-order="stroke"/>
<path d="M2145.85 1470.0h1.3V1503.0h-1.3zM2145.85 1529.4h1.3V1555.6h-1.3z" fill="#ff0a00"/>
<path d="M2170.85 1427.4h1.3V1635.4h-1.3z" fill="#0dfb3a" stroke="rgba(0,0,0,0.45)" stroke-width="1.0" paint-order="stroke"/>
<rect x="2161.9" y="1441.1" width="19.2" height="88.6" fill="#0dfb3a" stroke="rgba(0,0,0,0.45)" stroke-width="1.4" paint-order="stroke"/>
<path d="M2170.85 1427.4h1.3V1441.1h-1.3zM2170.85 1529.7h1.3V1635.4h-1.3z" fill="#0dfb3a"/>
<path d="M2194.85 1355.5h1.3V1457.3h-1.3z" fill="#0dfb3a" stroke="rgba(0,0,0,0.45)" stroke-width="1.0" paint-order="stroke"/>
<rect x="2185.9" y="1395.1" width="19.2" height="46.5" fill="#0dfb3a" stroke="rgba(0,0,0,0.45)" stroke-width="1.4" paint-order="stroke"/>
<path d="M2194.85 1355.5h1.3V1395.1h-1.3zM2194.85 1441.6h1.3V1457.3h-1.3z" fill="#0dfb3a"/>
<path d="M2219.85 1364.4h1.3V1447.6h-1.3z" fill="#ff0a00" stroke="rgba(0,0,0,0.45)" stroke-width="1.0" paint-order="stroke"/>
<rect x="2210.9" y="1395.1" width="19.2" height="21.4" fill="#ff0a00" stroke="rgba(0,0,0,0.45)" stroke-width="1.4" paint-order="stroke"/>
<path d="M2219.85 1364.4h1.3V1395.1h-1.3zM2219.85 1416.5h1.3V1447.6h-1.3z" fill="#ff0a00"/>
<path d="M2244.85 1394.2h1.3V1461.9h-1.3z" fill="#ff0a00" stroke="rgba(0,0,0,0.45)" stroke-width="1.0" paint-order="stroke"/>
<rect x="2235.9" y="1416.2" width="19.2" height="45.7" fill="#ff0a00" stroke="rgba(0,0,0,0.45)" stroke-width="1.4" paint-order="stroke"/>
<path d="M2244.85 1394.2h1.3V1416.2h-1.3zM2244.85 1461.9h1.3V1461.9h-1.3z" fill="#ff0a00"/>
<path d="M2269.85 1460.0h1.3V1588.5h-1.3z" fill="#ff0a00" stroke="rgba(0,0,0,0.45)" stroke-width="1.0" paint-order="stroke"/>
<rect x="2260.9" y="1461.0" width="19.2" height="44.6" fill="#ff0a00" stroke="rgba(0,0,0,0.45)" stroke-width="1.4" paint-order="stroke"/>
<path d="M2269.85 1460.0h1.3V1461.0h-1.3zM2269.85 1505.6h1.3V1588.5h-1.3z" fill="#ff0a00"/>
<path d="M2293.85 1443.4h1.3V1519.9h-1.3z" fill="#0dfb3a" stroke="rgba(0,0,0,0.45)" stroke-width="1.0" paint-order="stroke"/>
<rect x="2284.9" y="1481.2" width="19.2" height="24.4" fill="#0dfb3a" stroke="rgba(0,0,0,0.45)" stroke-width="1.4" paint-order="stroke"/>
<path d="M2293.85 1443.4h1.3V1481.2h-1.3zM2293.85 1505.6h1.3V1519.9h-1.3z" fill="#0dfb3a"/>
<path d="M2318.85 1467.4h1.3V1597.7h-1.3z" fill="#ff0a00" stroke="rgba(0,0,0,0.45)" stroke-width="1.0" paint-order="stroke"/>
<rect x="2309.9" y="1481.2" width="19.2" height="109.4" fill="#ff0a00" stroke="rgba(0,0,0,0.45)" stroke-width="1.4" paint-order="stroke"/>
<path d="M2318.85 1467.4h1.3V1481.2h-1.3zM2318.85 1590.6h1.3V1597.7h-1.3z" fill="#ff0a00"/>
<path d="M2343.85 1587.1h1.3V1662.5h-1.3z" fill="#ff0a00" stroke="rgba(0,0,0,0.45)" stroke-width="1.0" paint-order="stroke"/>
<rect x="2334.9" y="1590.0" width="19.2" height="15.6" fill="#ff0a00" stroke="rgba(0,0,0,0.45)" stroke-width="1.4" paint-order="stroke"/>
<path d="M2343.85 1587.1h1.3V1590.0h-1.3zM2343.85 1605.6h1.3V1662.5h-1.3z" fill="#ff0a00"/>
<path d="M2367.85 1559.1h1.3V1637.7h-1.3z" fill="#0dfb3a" stroke="rgba(0,0,0,0.45)" stroke-width="1.0" paint-order="stroke"/>
<rect x="2358.9" y="1571.0" width="19.2" height="34.6" fill="#0dfb3a" stroke="rgba(0,0,0,0.45)" stroke-width="1.4" paint-order="stroke"/>
<path d="M2367.85 1559.1h1.3V1571.0h-1.3zM2367.85 1605.6h1.3V1637.7h-1.3z" fill="#0dfb3a"/>
<path d="M2392.85 1285.4h1.3V1631.4h-1.3z" fill="#0dfb3a" stroke="rgba(0,0,0,0.45)" stroke-width="1.0" paint-order="stroke"/>
<rect x="2383.9" y="1310.2" width="19.2" height="261.4" fill="#0dfb3a" stroke="rgba(0,0,0,0.45)" stroke-width="1.4" paint-order="stroke"/>
<path d="M2392.85 1285.4h1.3V1310.2h-1.3zM2392.85 1571.6h1.3V1631.4h-1.3z" fill="#0dfb3a"/>
<path d="M2417.85 1270.2h1.3V1418.6h-1.3z" fill="#ff0a00" stroke="rgba(0,0,0,0.45)" stroke-width="1.0" paint-order="stroke"/>
<rect x="2408.9" y="1310.2" width="19.2" height="58.4" fill="#ff0a00" stroke="rgba(0,0,0,0.45)" stroke-width="1.4" paint-order="stroke"/>
<path d="M2417.85 1270.2h1.3V1310.2h-1.3zM2417.85 1368.6h1.3V1418.6h-1.3z" fill="#ff0a00"/>
<path d="M2442.85 1362.3h1.3V1601.9h-1.3z" fill="#ff0a00" stroke="rgba(0,0,0,0.45)" stroke-width="1.0" paint-order="stroke"/>
<rect x="2433.9" y="1367.7" width="19.2" height="220.9" fill="#ff0a00" stroke="rgba(0,0,0,0.45)" stroke-width="1.4" paint-order="stroke"/>
<path d="M2442.85 1362.3h1.3V1367.7h-1.3zM2442.85 1588.6h1.3V1601.9h-1.3z" fill="#ff0a00"/>
<path d="M2466.85 1540.1h1.3V1626.3h-1.3z" fill="#ff0a00" stroke="rgba(0,0,0,0.45)" stroke-width="1.0" paint-order="stroke"/>
<rect x="2457.9" y="1588.0" width="19.2" height="10.9" fill="#ff0a00" stroke="rgba(0,0,0,0.45)" stroke-width="1.4" paint-order="stroke"/>
<path d="M2466.85 1540.1h1.3V1588.0h-1.3zM2466.85 1598.9h1.3V1626.3h-1.3z" fill="#ff0a00"/>
<path d="M2491.85 1569.9h1.3V1650.2h-1.3z" fill="#ff0a00" stroke="rgba(0,0,0,0.45)" stroke-width="1.0" paint-order="stroke"/>
<rect x="2482.9" y="1598.1" width="19.2" height="7.6" fill="#ff0a00" stroke="rgba(0,0,0,0.45)" stroke-width="1.4" paint-order="stroke"/>
<path d="M2491.85 1569.9h1.3V1598.1h-1.3zM2491.85 1605.7h1.3V1650.2h-1.3z" fill="#ff0a00"/>
<path d="M2516.85 1598.9h1.3V1647.7h-1.3z" fill="#ff0a00" stroke="rgba(0,0,0,0.45)" stroke-width="1.0" paint-order="stroke"/>
<rect x="2507.9" y="1604.8" width="19.2" height="17.7" fill="#ff0a00" stroke="rgba(0,0,0,0.45)" stroke-width="1.4" paint-order="stroke"/>
<path d="M2516.85 1598.9h1.3V1604.8h-1.3zM2516.85 1622.5h1.3V1647.7h-1.3z" fill="#ff0a00"/>
<text x="1775.1" y="265.1" text-anchor="middle" font-size="36.7" font-weight="700" fill="#ff9800">MINOR RESISTANCE</text>
<text x="2034.8" y="477.6" text-anchor="middle" font-size="36" font-weight="700" fill="#0dfb3a">OB</text>
<text x="2356.6" y="959.7" text-anchor="middle" font-size="36.6" font-weight="700" fill="#ff9800">DEMAND LEVEL</text>
<text x="2936.7" y="1303.1" text-anchor="middle" font-size="36" font-weight="700" fill="#ff9800" textLength="137.6" lengthAdjust="spacingAndGlyphs">CHoCH</text>
<polygon points="2955.9,198.1 2970.7000000000003,198.1 2937.3,223.6" fill="#000" stroke="#000" stroke-width="3" stroke-linejoin="round"/>
<circle cx="2937.3" cy="223.6" r="4.7" fill="#000"/>
<rect x="2951.8" y="131.7" width="213.8" height="67.5" rx="5" fill="none" stroke="#000" stroke-width="3.2"/>
<rect x="2953.4" y="133.3" width="210.6" height="64.3" rx="3.6" fill="rgba(255,152,0,0.5)"/>
<polygon points="2962.1,197.6 2970.9,197.6 2950.2,211.5" fill="rgba(255,152,0,0.5)"/>
<path d="M3072.4 175.4H3079.3L3076.2 190.6H3070.2z" fill="#fff"/>
<path d="M3123.0 155.2L3132.8 146.6H3141.2V183.0H3132.1V156.0L3123.0 160.6z" fill="#fff"/>
<text transform="translate(2968.0,183.0) scale(1.07,1)" x="0 31.4 62.8 96.1 108.3 139.7" font-size="51" font-weight="700" fill="#fff" xml:space="preserve">237 7 </text>
<polygon points="2955.9,409.3 2970.7000000000003,409.3 2937.3,435.4" fill="#000" stroke="#000" stroke-width="3" stroke-linejoin="round"/>
<circle cx="2937.3" cy="435.4" r="4.7" fill="#000"/>
<rect x="2951.8" y="342.9" width="213.8" height="67.5" rx="5" fill="none" stroke="#000" stroke-width="3.2"/>
<rect x="2953.4" y="344.5" width="210.6" height="64.3" rx="3.6" fill="rgba(255,152,0,0.5)"/>
<polygon points="2962.1,408.8 2970.9,408.8 2950.2,422.7" fill="rgba(255,152,0,0.5)"/>
<path d="M3072.4 386.6H3079.3L3076.2 401.8H3070.2z" fill="#fff"/>
<text transform="translate(2968.0,394.2) scale(1.07,1)" x="0 31.4 62.8 96.1 108.3 139.7" font-size="51" font-weight="700" fill="#fff" xml:space="preserve">229 64</text>
<polygon points="2955.9,889.1 2970.7000000000003,889.1 2937.3,915.8000000000001" fill="#000" stroke="#000" stroke-width="3" stroke-linejoin="round"/>
<circle cx="2937.3" cy="915.8000000000001" r="4.7" fill="#000"/>
<rect x="2951.8" y="822.7" width="213.8" height="67.5" rx="5" fill="none" stroke="#000" stroke-width="3.2"/>
<rect x="2953.4" y="824.3" width="210.6" height="64.3" rx="3.6" fill="rgba(255,152,0,0.5)"/>
<polygon points="2962.1,888.6 2970.9,888.6 2950.2,902.5" fill="rgba(255,152,0,0.5)"/>
<path d="M3007.1 846.2L3016.9 837.6H3025.3V874.0H3016.2V847.0L3007.1 851.6z" fill="#fff"/>
<path d="M3040.7 846.2L3050.5 837.6H3058.9V874.0H3049.8V847.0L3040.7 851.6z" fill="#fff"/>
<path d="M3072.4 866.4H3079.3L3076.2 881.6H3070.2z" fill="#fff"/>
<text transform="translate(2968.0,874.0) scale(1.07,1)" x="0 31.4 62.8 96.1 108.3 139.7" font-size="51" font-weight="700" fill="#fff" xml:space="preserve">2   29</text>
<polygon points="2955.9,1244.5 2970.7000000000003,1244.5 2937.3,1271.6000000000001" fill="#000" stroke="#000" stroke-width="3" stroke-linejoin="round"/>
<circle cx="2937.3" cy="1271.6000000000001" r="4.7" fill="#000"/>
<rect x="2951.8" y="1178.1" width="213.8" height="67.5" rx="5" fill="none" stroke="#000" stroke-width="3.2"/>
<rect x="2953.4" y="1179.7" width="210.6" height="64.3" rx="3.6" fill="rgba(255,152,0,0.5)"/>
<polygon points="2962.1,1244.0 2970.9,1244.0 2950.2,1257.9" fill="rgba(255,152,0,0.5)"/>
<path d="M2973.5 1201.6L2983.3 1193.0H2991.7V1229.4H2982.6V1202.4L2973.5 1207.0z" fill="#fff"/>
<path d="M3072.4 1221.8H3079.3L3076.2 1237.0H3070.2z" fill="#fff"/>
<text transform="translate(2968.0,1229.4) scale(1.07,1)" x="0 31.4 62.8 96.1 108.3 139.7" font-size="51" font-weight="700" fill="#fff" xml:space="preserve"> 97 72</text>
<polygon points="2955.9,1895.4 2970.7000000000003,1895.4 2937.4,1922.0" fill="#000" stroke="#000" stroke-width="3" stroke-linejoin="round"/>
<circle cx="2937.4" cy="1922.0" r="4.7" fill="#000"/>
<rect x="2951.8" y="1829.0" width="213.8" height="67.5" rx="5" fill="none" stroke="#000" stroke-width="3.2"/>
<rect x="2953.4" y="1830.6" width="210.6" height="64.3" rx="3.6" fill="rgba(255,152,0,0.5)"/>
<polygon points="2962.1,1894.9 2970.9,1894.9 2950.2,1908.8" fill="rgba(255,152,0,0.5)"/>
<path d="M2973.5 1852.5L2983.3 1843.9H2991.7V1880.3H2982.6V1853.3L2973.5 1857.9z" fill="#fff"/>
<path d="M3072.4 1872.7H3079.3L3076.2 1887.9H3070.2z" fill="#fff"/>
<text transform="translate(2968.0,1880.3) scale(1.07,1)" x="0 31.4 62.8 96.1 108.3 139.7" font-size="51" font-weight="700" fill="#fff" xml:space="preserve"> 72 83</text>
</g>
<circle cx="2517.4" cy="2053.5" r="15.7" fill="#101010" stroke="#b94bd6" stroke-width="2.3"/>
<polygon points="2521.55,2044.65 2523.12,2046.04 2518.2,2052.09 2524.64,2052.22 2513.6,2062.44 2512.09,2060.92 2516.82,2054.99 2510.38,2054.74" fill="#b94bd6"/>
<rect x="10" y="2073.6000000000004" width="3945" height="1.4" fill="#262626"/>
<rect x="3798.8" y="71" width="1.4" height="2069" fill="#262626"/>
<text x="3818.6" y="171.5" font-size="31" fill="#f0f0f0" letter-spacing="0.05">240,00</text>
<text x="3818.6" y="276.2" font-size="31" fill="#f0f0f0" letter-spacing="0.05">236,00</text>
<text x="3818.6" y="380.8" font-size="31" fill="#f0f0f0" letter-spacing="0.05">232,00</text>
<text x="3818.6" y="485.4" font-size="31" fill="#f0f0f0" letter-spacing="0.05">228,00</text>
<text x="3818.6" y="590.1" font-size="31" fill="#f0f0f0" letter-spacing="0.05">224,00</text>
<text x="3818.6" y="694.7" font-size="31" fill="#f0f0f0" letter-spacing="0.05">220,00</text>
<text x="3818.6" y="799.3" font-size="31" fill="#f0f0f0" letter-spacing="0.05">216,00</text>
<text x="3818.6" y="904.0" font-size="31" fill="#f0f0f0" letter-spacing="0.05">212,00</text>
<text x="3818.6" y="1008.6" font-size="31" fill="#f0f0f0" letter-spacing="0.05">208,00</text>
<text x="3818.6" y="1113.2" font-size="31" fill="#f0f0f0" letter-spacing="0.05">204,00</text>
<text x="3818.6" y="1217.9" font-size="31" fill="#f0f0f0" letter-spacing="0.05">200,00</text>
<text x="3818.6" y="1322.5" font-size="31" fill="#f0f0f0" letter-spacing="0.05">196,00</text>
<text x="3818.6" y="1427.1" font-size="31" fill="#f0f0f0" letter-spacing="0.05">192,00</text>
<text x="3818.6" y="1531.8" font-size="31" fill="#f0f0f0" letter-spacing="0.05">188,00</text>
<text x="3818.6" y="1636.4" font-size="31" fill="#f0f0f0" letter-spacing="0.05">184,00</text>
<text x="3818.6" y="1741.0" font-size="31" fill="#f0f0f0" letter-spacing="0.05">180,00</text>
<text x="3818.6" y="1845.6" font-size="31" fill="#f0f0f0" letter-spacing="0.05">176,00</text>
<text x="3818.6" y="1950.3" font-size="31" fill="#f0f0f0" letter-spacing="0.05">172,00</text>
<text x="3818.6" y="2054.9" font-size="31" fill="#f0f0f0" letter-spacing="0.05">168,00</text>
<rect x="3805.2" y="77" width="145" height="41.2" rx="6.5" fill="#0f0f0f" stroke="#343434" stroke-width="1.4"/>
<text x="3819" y="104.2" font-size="19.5" fill="#d6d6d6">USDT</text>
<path d="M3799.9 1602.1H3945.8a4 4 0 0 1 4 4V1673.1a4 4 0 0 1 -4 4H3799.9z" fill="#ff0a00"/>
<text x="3819.7" y="1630.3" font-size="31" fill="#fff" letter-spacing="0.05">184,25</text>
<text x="3819.2" y="1664.6" font-size="31" fill="rgba(255,255,255,0.72)" textLength="120.6" lengthAdjust="spacing">01:52:03</text>
<defs><clipPath id="tclip"><rect x="10" y="2074.3" width="3788.7" height="65.69999999999982"/></clipPath></defs><g clip-path="url(#tclip)">
<text transform="translate(93.9,2114.4) scale(1.07,1)" text-anchor="middle" font-size="30.7" fill="#f0f0f0" font-weight="700">6</text>
<text transform="translate(242.3,2114.4) scale(1.0,1)" text-anchor="middle" font-size="30.7" fill="#f0f0f0">7</text>
<text transform="translate(390.7,2114.4) scale(1.0,1)" text-anchor="middle" font-size="30.7" fill="#f0f0f0">8</text>
<text transform="translate(539.0,2114.4) scale(1.0,1)" text-anchor="middle" font-size="30.7" fill="#f0f0f0">9</text>
<text transform="translate(687.4,2114.4) scale(1.0,1)" text-anchor="middle" font-size="30.7" fill="#f0f0f0">10</text>
<text transform="translate(835.8,2114.4) scale(1.0,1)" text-anchor="middle" font-size="30.7" fill="#f0f0f0">11</text>
<text transform="translate(984.2,2114.4) scale(1.0,1)" text-anchor="middle" font-size="30.7" fill="#f0f0f0">12</text>
<text transform="translate(1132.6,2114.4) scale(1.07,1)" text-anchor="middle" font-size="30.7" fill="#f0f0f0" font-weight="700">13</text>
<text transform="translate(1280.9,2114.4) scale(1.0,1)" text-anchor="middle" font-size="30.7" fill="#f0f0f0">14</text>
<text transform="translate(1429.3,2114.4) scale(1.0,1)" text-anchor="middle" font-size="30.7" fill="#f0f0f0">15</text>
<text transform="translate(1577.7,2114.4) scale(1.0,1)" text-anchor="middle" font-size="30.7" fill="#f0f0f0">16</text>
<text transform="translate(1726.1,2114.4) scale(1.0,1)" text-anchor="middle" font-size="30.7" fill="#f0f0f0">17</text>
<text transform="translate(1874.5,2114.4) scale(1.0,1)" text-anchor="middle" font-size="30.7" fill="#f0f0f0">18</text>
<text transform="translate(2022.8,2114.4) scale(1.0,1)" text-anchor="middle" font-size="30.7" fill="#f0f0f0">19</text>
<text transform="translate(2171.2,2114.4) scale(1.07,1)" text-anchor="middle" font-size="30.7" fill="#f0f0f0" font-weight="700">20</text>
<text transform="translate(2319.6,2114.4) scale(1.0,1)" text-anchor="middle" font-size="30.7" fill="#f0f0f0">21</text>
<text transform="translate(2468.0,2114.4) scale(1.0,1)" text-anchor="middle" font-size="30.7" fill="#f0f0f0">22</text>
<text transform="translate(2616.4,2114.4) scale(1.0,1)" text-anchor="middle" font-size="30.7" fill="#f0f0f0">23</text>
<text transform="translate(2764.7,2114.4) scale(1.0,1)" text-anchor="middle" font-size="30.7" fill="#f0f0f0">24</text>
<text transform="translate(2913.1,2114.4) scale(1.0,1)" text-anchor="middle" font-size="30.7" fill="#f0f0f0">25</text>
<text transform="translate(3061.5,2114.4) scale(1.0,1)" text-anchor="middle" font-size="30.7" fill="#f0f0f0">26</text>
<text transform="translate(3209.9,2114.4) scale(1.07,1)" text-anchor="middle" font-size="30.7" fill="#f0f0f0" font-weight="700">27</text>
<text transform="translate(3358.3,2114.4) scale(1.0,1)" text-anchor="middle" font-size="30.7" fill="#f0f0f0">28</text>
<text transform="translate(3506.6,2114.4) scale(1.0,1)" text-anchor="middle" font-size="30.7" fill="#f0f0f0">29</text>
<text transform="translate(3655.0,2114.4) scale(1.0,1)" text-anchor="middle" font-size="30.7" fill="#f0f0f0">30</text>
<text transform="translate(3803.4,2114.4) scale(1.0,1)" text-anchor="middle" font-size="30.7" fill="#f0f0f0">31</text>
</g>
<text x="24.14" y="104.0" font-size="18" fill="#ffffff" font-weight="700" textLength="99.25" lengthAdjust="spacingAndGlyphs">SOLUSDT.P</text>
<text x="131" y="104.0" font-size="18" fill="#ffffff" font-weight="700" textLength="3.60" lengthAdjust="spacingAndGlyphs">·</text>
<text x="139.61" y="104.0" font-size="18" fill="#ffffff" font-weight="700" textLength="35.05" lengthAdjust="spacingAndGlyphs">SOL</text>
<line x1="180.3" y1="107.2" x2="187.7" y2="89.3" stroke="#fff" stroke-width="2.3"/>
<text x="194.52" y="104.0" font-size="18" fill="#ffffff" font-weight="700" textLength="82.48" lengthAdjust="spacingAndGlyphs">TetherUS</text>
<text x="281.14" y="104.0" font-size="18" fill="#ffffff" font-weight="700" textLength="104.95" lengthAdjust="spacingAndGlyphs">PERPETUAL</text>
<text x="390.85" y="104.0" font-size="18" fill="#ffffff" font-weight="700" textLength="99.92" lengthAdjust="spacingAndGlyphs">CONTRACT</text>
<text x="496.7" y="104.0" font-size="18" fill="#ffffff" font-weight="700" textLength="3.60" lengthAdjust="spacingAndGlyphs">·</text>
<text x="507.01" y="104.0" font-size="18" fill="#ffffff" font-weight="700" textLength="29.86" lengthAdjust="spacingAndGlyphs">4sa</text>
<text x="543.6" y="104.0" font-size="18" fill="#ffffff" font-weight="700" textLength="3.60" lengthAdjust="spacingAndGlyphs">·</text>
<text x="553.44" y="104.0" font-size="18" fill="#ffffff" font-weight="700" textLength="73.17" lengthAdjust="spacingAndGlyphs">Binance</text>
<text x="9.73" y="27.1" font-size="18" fill="#d1d4dc" font-weight="700" textLength="106.82" lengthAdjust="spacingAndGlyphs">MeTraderTr</text>
<text x="122.34" y="27.1" font-size="18" fill="#d1d4dc" textLength="177.05" lengthAdjust="spacingAndGlyphs">TradingView.com'da</text>
<text x="307.27" y="27.1" font-size="18" fill="#d1d4dc" textLength="108.78" lengthAdjust="spacingAndGlyphs">yayınlanmış,</text>
<text x="420.51" y="27.1" font-size="18" fill="#d1d4dc" textLength="43.88" lengthAdjust="spacingAndGlyphs">Ekim</text>
<text x="468.81" y="27.1" font-size="18" fill="#d1d4dc" textLength="27.77" lengthAdjust="spacingAndGlyphs">22,</text>
<text x="501.62" y="27.1" font-size="18" fill="#d1d4dc" textLength="44.02" lengthAdjust="spacingAndGlyphs">2025</text>
<text x="551.7" y="27.1" font-size="18" fill="#d1d4dc" textLength="78.10" lengthAdjust="spacingAndGlyphs">05:07:58</text>
<text x="635.39" y="27.1" font-size="18" fill="#d1d4dc" textLength="31.10" lengthAdjust="spacingAndGlyphs">EST</text>
<text x="9.89" y="54.1" font-size="18" fill="#d1d4dc" font-weight="700" textLength="194.43" lengthAdjust="spacingAndGlyphs">BINANCE:SOLUSDT.P,</text>
<text x="209.24" y="54.1" font-size="18" fill="#d1d4dc" font-weight="700" textLength="33.29" lengthAdjust="spacingAndGlyphs">240</text>
<text x="250.1" y="54.1" font-size="18" fill="#d1d4dc" textLength="60.70" lengthAdjust="spacingAndGlyphs">184,25</text>
<polygon points="315.9,39.2 332.2,39.2 324.05,55" fill="#ef5350"/>
<text x="337.75" y="54.1" font-size="18" fill="#d1d4dc" textLength="50.15" lengthAdjust="spacingAndGlyphs">−1,29</text>
<text x="393.48" y="54.1" font-size="18" fill="#d1d4dc" textLength="67.50" lengthAdjust="spacingAndGlyphs">(−0.7%)</text>
<text x="466.86" y="54.1" font-size="18" fill="#d1d4dc" font-weight="700" textLength="22.03" lengthAdjust="spacingAndGlyphs">O:</text>
<text x="490.2" y="54.1" font-size="18" fill="#ef5350" textLength="61.34" lengthAdjust="spacingAndGlyphs">184,89</text>
<text x="556.03" y="54.1" font-size="18" fill="#d1d4dc" font-weight="700" textLength="21.91" lengthAdjust="spacingAndGlyphs">H:</text>
<text x="579.26" y="54.1" font-size="18" fill="#ef5350" textLength="60.68" lengthAdjust="spacingAndGlyphs">185,10</text>
<text x="645.96" y="54.1" font-size="18" fill="#d1d4dc" font-weight="700" textLength="16.41" lengthAdjust="spacingAndGlyphs">L:</text>
<text x="664.16" y="54.1" font-size="18" fill="#ef5350" textLength="59.99" lengthAdjust="spacingAndGlyphs">183,24</text>
<text x="730.72" y="54.1" font-size="18" fill="#d1d4dc" font-weight="700" textLength="18.87" lengthAdjust="spacingAndGlyphs">C:</text>
<text x="751.26" y="54.1" font-size="18" fill="#ef5350" textLength="60.34" lengthAdjust="spacingAndGlyphs">184,25</text>
<path d="M10 2159H25V2177.7H16.8V2166.8H10z" fill="#d1d4dc"/>
<circle cx="30.6" cy="2163" r="3.8" fill="#d1d4dc"/>
<path d="M36.9 2159H46.1L39.1 2177.7H30.8z" fill="#d1d4dc"/>
<text x="53.47" y="2177.6" font-size="26" font-weight="700" fill="#d1d4dc" textLength="147.23" lengthAdjust="spacingAndGlyphs">TradingView</text>
</svg></body></html>
